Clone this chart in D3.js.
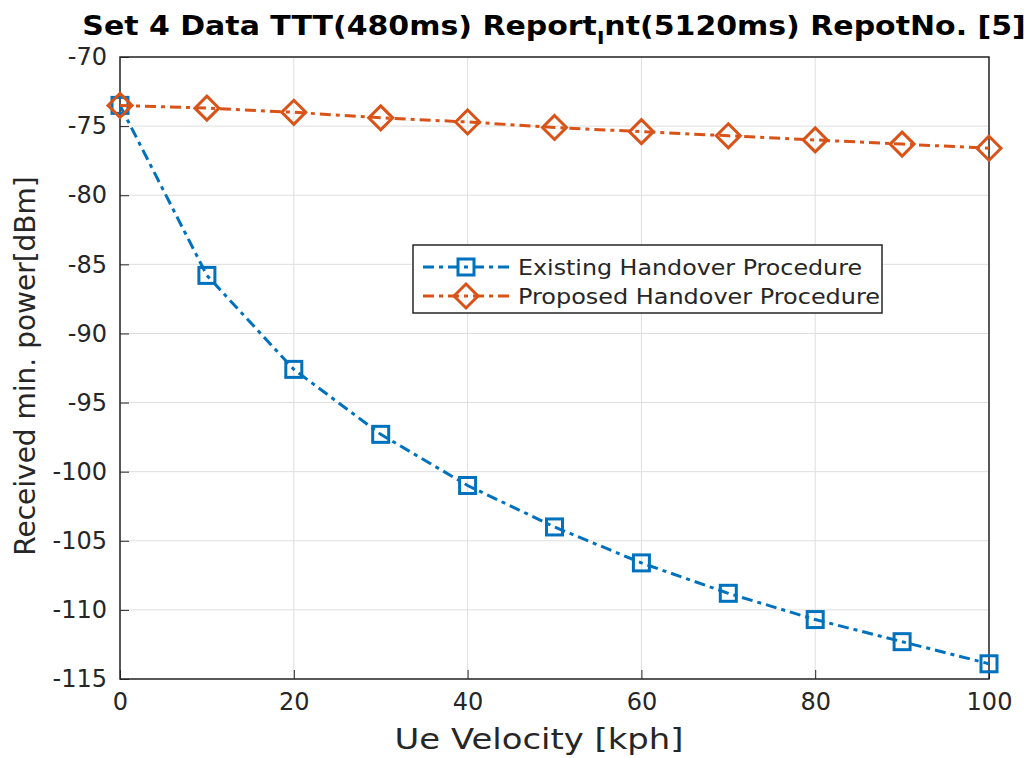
<!DOCTYPE html>
<html>
<head>
<meta charset="utf-8">
<script src="https://cdn.jsdelivr.net/npm/d3@7"></script>
<style>
  body { margin: 0; background: #fff; }
  svg { display: block; font-family: 'DejaVu Sans', sans-serif; }
</style>
</head>
<body>
<div id="chart"></div>
<script>
// data
const velocity = [0, 10, 20, 30, 40, 50, 60, 70, 80, 90, 100];
const existing = [-73.5, -85.8, -92.6, -97.3, -101.0, -104.0, -106.6, -108.8, -110.7, -112.3, -113.9];
const proposed = [-73.5, -73.7, -74.0, -74.4, -74.7, -75.1, -75.4, -75.7, -76.0, -76.3, -76.6];
const xTicks = [0, 20, 40, 60, 80, 100];
const yTicks = [-70, -75, -80, -85, -90, -95, -100, -105, -110, -115];
const seriesNames = ['Existing Handover Procedure', 'Proposed Handover Procedure'];

const width = 1032;
const height = 758;
const margin = { top: 57, right: 43, bottom: 79, left: 120 };
const colors = ['#0072BD', '#D95319'];
const stretch = 1.21; // reference text is widened horizontally

const svg = d3.select('#chart')
  .append('svg')
  .attr('width', width)
  .attr('height', height);

const x = d3.scaleLinear()
  .domain([0, 100])
  .range([margin.left, width - margin.right]);

const y = d3.scaleLinear()
  .domain([-115, -70])
  .range([height - margin.bottom, margin.top]);

// grid
svg.append('g')
  .attr('stroke', '#dedede')
  .attr('stroke-width', 1)
  .call((g) => g.selectAll('.gx')
    .data(xTicks)
    .join('line')
    .attr('x1', (d) => x(d))
    .attr('x2', (d) => x(d))
    .attr('y1', y(-115))
    .attr('y2', y(-70)))
  .call((g) => g.selectAll('.gy')
    .data(yTicks)
    .join('line')
    .attr('x1', x(0))
    .attr('x2', x(100))
    .attr('y1', (d) => y(d))
    .attr('y2', (d) => y(d)));

// axes (ticks pointing inward, plain hyphen minus)
const fmt = (d) => String(d);
const xAxis = d3.axisBottom(x).tickValues(xTicks).tickFormat(fmt).tickSize(-9).tickPadding(14);
const yAxis = d3.axisLeft(y).tickValues(yTicks).tickFormat(fmt).tickSize(-9).tickPadding(13);

const styleAxis = (g) => g
  .call((a) => a.select('.domain').remove())
  .call((a) => a.selectAll('line').attr('stroke', '#262626'))
  .call((a) => a.selectAll('text')
    .attr('font-size', 24)
    .attr('font-family', 'DejaVu Sans')
    .attr('fill', '#262626'));

svg.append('g')
  .attr('transform', `translate(0,${y(-115)})`)
  .call(xAxis)
  .call(styleAxis);

svg.append('g')
  .attr('transform', `translate(${x(0)},0)`)
  .call(yAxis)
  .call(styleAxis);

// box
svg.append('rect')
  .attr('x', x(0))
  .attr('y', y(-70))
  .attr('width', x(100) - x(0))
  .attr('height', y(-115) - y(-70))
  .attr('fill', 'none')
  .attr('stroke', '#262626')
  .attr('stroke-width', 1.5);

// lines
const line = d3.line()
  .x((d) => x(d[0]))
  .y((d) => y(d[1]));

const series = [existing, proposed].map((vals, i) => ({
  name: seriesNames[i],
  color: colors[i],
  points: velocity.map((v, j) => [v, vals[j]]),
}));

const diamond = (cx, cy, r) => `M${cx},${cy - r}L${cx + r},${cy}L${cx},${cy + r}L${cx - r},${cy}Z`;

const drawMarker = (g, s, i, cx, cy) => {
  if (i === 0) {
    g.append('rect')
      .attr('x', cx - 8)
      .attr('y', cy - 8)
      .attr('width', 16)
      .attr('height', 16)
      .attr('fill', 'none')
      .attr('stroke', s.color)
      .attr('stroke-width', 3);
  } else {
    g.append('path')
      .attr('d', diamond(cx, cy, 12))
      .attr('fill', 'none')
      .attr('stroke', s.color)
      .attr('stroke-width', 3);
  }
};

series.forEach((s, i) => {
  const g = svg.append('g');
  g.append('path')
    .datum(s.points)
    .attr('d', line)
    .attr('fill', 'none')
    .attr('stroke', s.color)
    .attr('stroke-width', 3)
    .attr('stroke-dasharray', '11 5 4 5');
  s.points.forEach((p) => drawMarker(g, s, i, x(p[0]), y(p[1])));
});

// legend
const legend = svg.append('g').attr('transform', 'translate(413,245)');
legend.append('rect')
  .attr('width', 469)
  .attr('height', 68)
  .attr('fill', '#fff')
  .attr('stroke', '#262626')
  .attr('stroke-width', 1.5);

const legendWidths = [344, 362];
series.forEach((s, i) => {
  const ly = 22 + i * 29;
  const row = legend.append('g');
  row.append('line')
    .attr('x1', 10)
    .attr('x2', 96)
    .attr('y1', ly)
    .attr('y2', ly)
    .attr('stroke', s.color)
    .attr('stroke-width', 3)
    .attr('stroke-dasharray', '11 5 4 5');
  drawMarker(row, s, i, 53, ly);
  row.append('text')
    .attr('x', 105)
    .attr('y', ly)
    .attr('dy', '0.36em')
    .attr('font-size', 21)
    .attr('fill', '#262626')
    .attr('textLength', legendWidths[i])
    .attr('lengthAdjust', 'spacingAndGlyphs')
    .text(s.name);
});

// axis labels
svg.append('text')
  .attr('transform', `translate(539,749) scale(${stretch},1)`)
  .attr('text-anchor', 'middle')
  .attr('font-size', 28)
  .attr('fill', '#262626')
  .text('Ue Velocity [kph]');

svg.append('text')
  .attr('transform', `translate(35,${(y(-70) + y(-115)) / 2 - 2}) rotate(-90)`)
  .attr('text-anchor', 'middle')
  .attr('font-size', 28)
  .attr('fill', '#262626')
  .text('Received min. power[dBm]');

// title with subscript I
const title = svg.append('text')
  .attr('transform', `translate(554,35) scale(1.11,1)`)
  .attr('text-anchor', 'middle')
  .attr('font-size', 27)
  .attr('font-weight', 'bold')
  .attr('fill', '#000');
title.append('tspan').text('Set 4 Data TTT(480ms) Report');
title.append('tspan').attr('font-size', 18).attr('dy', 9).text('I');
title.append('tspan').attr('dy', -9).text('nt(5120ms) RepotNo. [5]');
</script>
</body>
</html>
